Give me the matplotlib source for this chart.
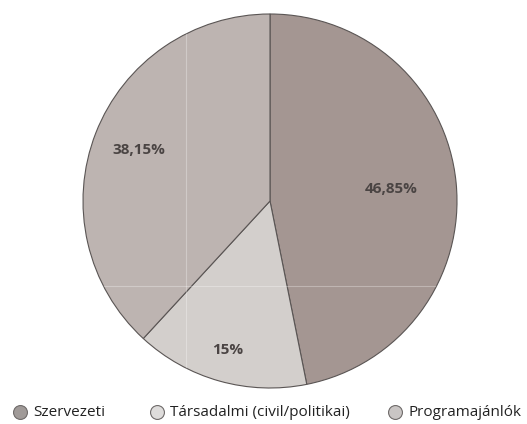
import matplotlib.pyplot as plt
import numpy as np
from matplotlib.lines import Line2D

categories = ["Szervezeti", "Társadalmi (civil/politikai)", "Programajánlók"]
shares = [46.85, 15.0, 38.15]
share_labels = ["46,85%", "15%", "38,15%"]

colors = ["#a49692", "#d3cfcc", "#bdb4b1"]
legend_colors = ["#a09a98", "#dedcdb", "#c9c5c4"]
label_radius = [0.65, 0.83, 0.755]

W, H = 527, 424
fig = plt.figure(figsize=(W / 100, H / 100), dpi=100)
cx, cy, r = 270, 201, 187
ax = fig.add_axes([(cx - r) / W, (H - cy - r) / H, 2 * r / W, 2 * r / H])

wedges, _ = ax.pie(
    shares,
    colors=colors,
    startangle=90,
    counterclock=False,
    radius=1,
    wedgeprops=dict(edgecolor="#5a5554", linewidth=0.8),
)

# faint grid lines showing through the slices
for w in wedges:
    for seg in ([(-0.45, -0.45), (-1, 0.9)], [(-1, 1), (-0.455, -0.455)]):
        ln = ax.plot(seg[0], seg[1], color="#ffffff", lw=0.8, alpha=0.3, zorder=3)[0]
        ln.set_clip_path(w)

for w, txt, rad in zip(wedges, share_labels, label_radius):
    ang = np.deg2rad((w.theta1 + w.theta2) / 2)
    ax.text(rad * np.cos(ang), rad * np.sin(ang), txt, ha="center", va="center",
            fontsize=11, fontweight="bold", color="#4a4443", family="Open Sans", zorder=4)

ax.set_xlim(-1, 1)
ax.set_ylim(-1, 1)
ax.set_aspect("equal")
ax.axis("off")

# legend row along the bottom
legend_x = [20, 157, 395]
ly = 1 - 412 / H
for x, c, name in zip(legend_x, legend_colors, categories):
    fig.add_artist(Line2D([x / W], [ly], transform=fig.transFigure, marker="o",
                          markersize=10, markerfacecolor=c, markeredgecolor="#6f6b6a",
                          markeredgewidth=0.8, linestyle="none"))
    fig.text((x + 13) / W, ly, name, ha="left", va="center", fontsize=11,
             family="Open Sans", color="#222222")

fig.savefig("out.png", dpi=100)
